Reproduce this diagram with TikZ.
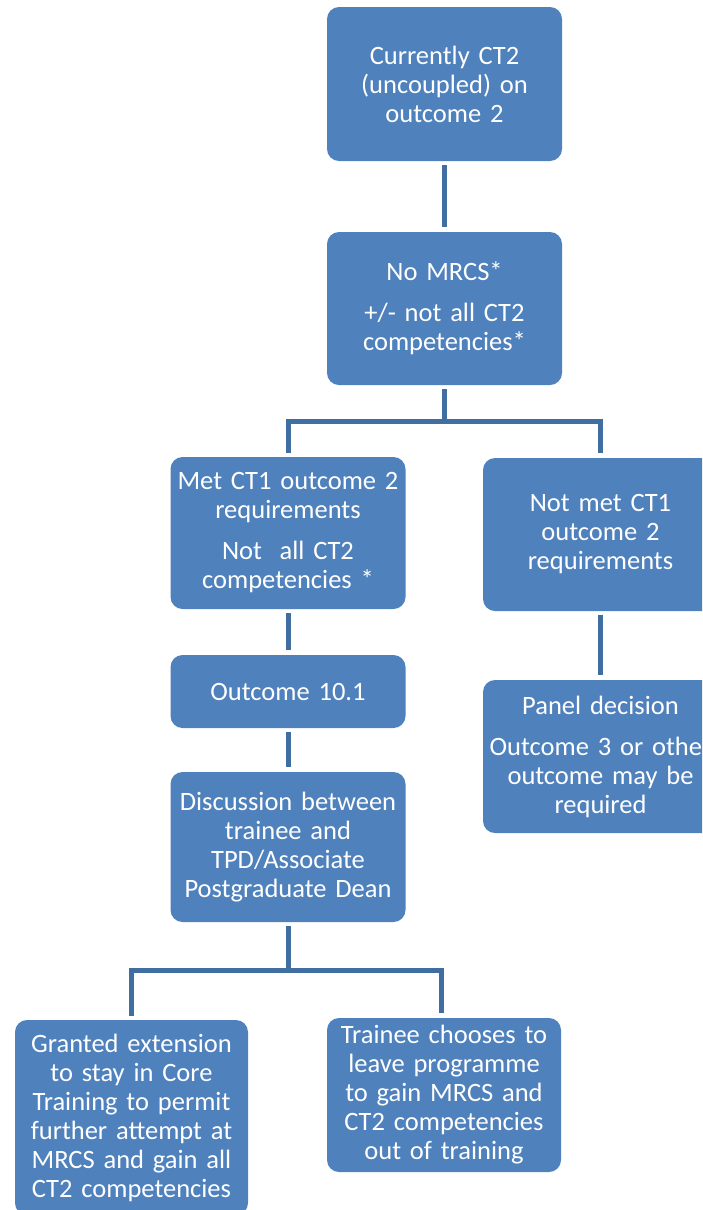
\documentclass[tikz,border=0pt]{standalone}
\usepackage{fontspec}
\setmainfont{Carlito}
\usepackage{tikz}
\usepackage{xcolor}
\definecolor{boxblue}{RGB}{79,129,189}
\definecolor{linkblue}{RGB}{65,110,160}

\tikzset{
	stage/.style={rectangle, rounded corners=12pt, fill=boxblue, text=white,
		minimum width=235pt, text width=230pt, inner sep=0pt, align=center,
		font=\fontsize{26.5}{29}\selectfont},
	link/.style={draw=linkblue, line width=5pt, shorten <=4pt, shorten >=5pt}
}

\begin{document}
\begin{tikzpicture}[x=1pt,y=1pt]
	\useasboundingbox (0,0) rectangle (702,-1210);
	\clip (0,0) rectangle (702,-1210);
	\node[stage, minimum height=154pt] (current) at (444.5,-84) {Currently CT2\\(uncoupled) on\\outcome 2};
	\node[stage, minimum height=153pt] (nomrcs) at (444.5,-308.5) {No MRCS*\\[12pt]+/- not all CT2\\competencies*};
	\node[stage, minimum height=152pt] (met) at (288,-533) {Met CT1 outcome 2\\requirements\\[12pt]Not\ \ all CT2\\competencies *};
	\node[stage, minimum height=153pt] (notmet) at (600.5,-534.5) {Not met CT1\\outcome 2\\requirements};
	\node[stage, minimum height=73pt] (outcome) at (288,-691.5) {Outcome 10.1};
	\node[stage, minimum height=150pt] (discuss) at (288,-847) {Discussion between\\trainee and\\TPD/Associate\\Postgraduate Dean};
	\node[stage, minimum height=153pt] (panel) at (600.5,-756.5) {Panel decision\\[12pt]Outcome 3 or other\\outcome may be\\required};
	\node[stage, minimum width=233pt, minimum height=195pt] (granted) at (131.5,-1117.5) {Granted extension\\to stay in Core\\Training to permit\\further attempt at\\MRCS and gain all\\CT2 competencies};
	\node[stage, minimum width=234pt, minimum height=154pt] (leave) at (444,-1095) {Trainee chooses to\\leave programme\\to gain MRCS and\\CT2 competencies\\out of training};

	\coordinate (split1) at (444.5,-421);
	\coordinate (split2) at (288,-970);
	\draw[link] (current.south) -- (nomrcs.north);
	\draw[link, shorten >=0pt] (nomrcs.south) -- (split1);
	\draw[link] (met.north) |- (split1) -| (notmet.north);
	\draw[link] (met.south) -- (outcome.north);
	\draw[link] (outcome.south) -- (discuss.north);
	\draw[link] (notmet.south) -- (panel.north);
	\draw[link, shorten >=0pt] (discuss.south) -- (split2);
	\draw[link] (granted.north) |- (split2) -| ([xshift=-3pt]leave.north);
\end{tikzpicture}
\end{document}
